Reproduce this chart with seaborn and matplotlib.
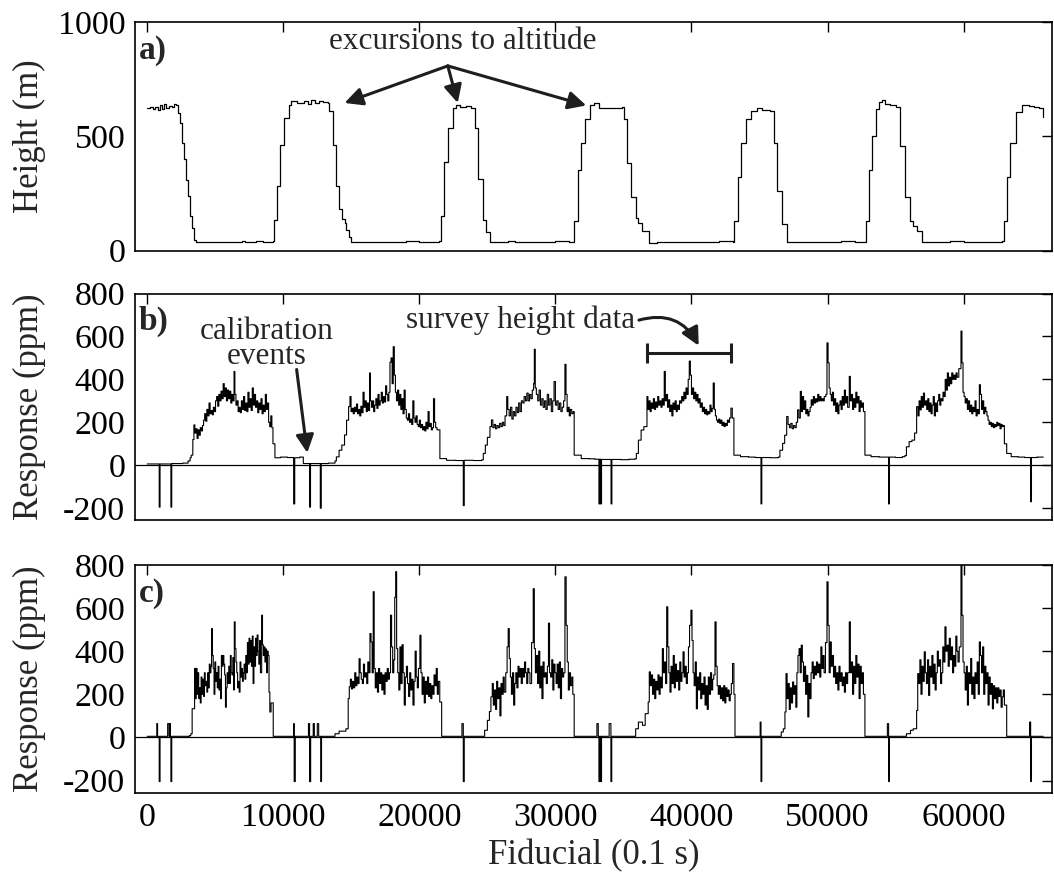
import numpy as np
import pandas as pd
import matplotlib
matplotlib.use("Agg")
import matplotlib.pyplot as plt
import seaborn as sns

# ---------------- data (fiducial, value) ----------------
# Panel a: height (m)
height_fid = [0, 200, 400, 600, 800, 950, 1100, 1250, 1400, 1600, 1800, 2000, 2090, 2250, 2400, 2550,
              2700, 2850, 3000, 3150, 3300, 3450, 3580, 4000, 4500, 5000, 5500, 6000, 6500, 7000, 7200,
              7500, 8000, 8500, 9000, 9250,
              9300, 9530, 9780, 10080, 10400, 10570, 11000, 11500, 11800, 12000, 12300, 12600, 12900, 13260,
              13380, 13630, 13880, 14130, 14350, 14500, 14600, 14800, 15000, 16000, 17000, 18000, 19000,
              20000, 21000, 21450,
              21580, 21830, 22070, 22450, 22690, 23000, 23400, 23810,
              24060, 24310, 24680, 24900, 25180, 26000, 26500, 27000, 28000, 29000, 30000, 31000, 31280,
              31400, 31650, 31900, 32150, 32520, 32800, 33200, 34000, 34600, 34890,
              35030, 35280, 35530, 35900, 36100, 36400, 36900, 37500, 38500, 39500, 40500, 41500, 42000, 43040,
              43160, 43410, 43660, 44040, 44410, 44800, 45200, 45790,
              46040, 46280, 46670, 47050, 48000, 49000, 50000, 51000, 52000, 52680,
              52800, 53050, 53300, 53550, 53800, 54000, 54200, 54600, 55060,
              55310, 55680, 56060, 56300, 56560, 56930, 58000, 59000, 60000, 61000, 62000, 62810,
              62940, 63190, 63440, 63820, 64320, 64800, 65200, 65570, 65870]
height_m = [625, 630, 620, 628, 615, 635, 620, 640, 625, 632, 630, 640, 635, 600, 560, 470,
            400, 310, 240, 150, 100, 45, 38, 36, 40, 38, 37, 40, 38, 42, 36,
            38, 42, 38, 40, 42,
            136, 284, 461, 579, 638, 653, 645, 655, 642, 660, 645, 655, 650, 648,
            609, 461, 284, 181, 140, 121, 90, 60, 40, 38, 40, 38, 42,
            38, 40, 42,
            151, 388, 536, 624, 638, 630, 632, 625,
            535, 313, 136, 80, 40, 38, 42, 38, 40, 36, 42, 38, 40,
            130, 353, 471, 576, 636, 645, 622, 622, 624, 630,
            576, 383, 234, 144, 120, 85, 35, 38, 36, 38, 40, 36, 42, 40,
            130, 323, 471, 576, 613, 625, 615, 610,
            471, 263, 115, 40, 38, 40, 38, 42, 38, 40,
            130, 353, 501, 620, 650, 660, 640, 635, 630,
            458, 234, 130, 110, 85, 40, 38, 42, 38, 40, 38, 42,
            130, 323, 471, 605, 636, 632, 630, 625, 586]

# Panel b: response (ppm), one small list of (fiducial, ppm) per stretch
b_base0 = [(0, 6), (880, -195), (940, 6), (1740, -195), (1800, 8), (2600, 10), (3000, 20), (3150, 35), (3230, 47)]
b_hump1 = [(3350, 120), (3430, 188), (3500, 150), (3580, 170), (3660, 125), (3740, 165), (3820, 140), (3900, 175),
           (3980, 160), (4060, 185), (4140, 210), (4220, 240), (4300, 205), (4380, 260), (4460, 230), (4540, 290),
           (4620, 240), (4700, 255), (4780, 235), (4860, 270), (4940, 250), (5020, 300), (5100, 320), (5180, 275),
           (5260, 330), (5340, 300), (5420, 345), (5500, 310), (5580, 380), (5660, 320), (5740, 360), (5820, 300),
           (5900, 350), (5980, 310), (6060, 345), (6140, 290), (6220, 330), (6300, 300), (6380, 437), (6440, 330),
           (6520, 280), (6600, 300), (6680, 250), (6760, 270), (6840, 245), (6920, 300), (7000, 260), (7080, 320),
           (7160, 255), (7240, 290), (7320, 250), (7400, 340), (7480, 270), (7560, 310), (7640, 255), (7720, 360),
           (7800, 280), (7880, 330), (7960, 270), (8040, 300), (8120, 245), (8200, 290), (8280, 260), (8360, 310),
           (8440, 240), (8520, 280), (8600, 250), (8680, 330), (8760, 260), (8840, 290), (8920, 200), (9000, 180),
           (9080, 230), (9160, 175), (9240, 100)]
b_base1 = [(9385, 35), (9800, 38), (10300, 36), (10760, -180), (10840, 35), (11200, 38), (11470, 8),
           (11930, -195), (12000, 8), (12720, -200), (12790, 8), (13300, 10), (13800, 20)]
b_hump2 = [(13900, 39), (14100, 70), (14300, 94), (14500, 141), (14650, 210), (14800, 273), (14900, 320),
           (14980, 250), (15060, 265), (15140, 240), (15220, 270), (15300, 250), (15380, 285), (15460, 240),
           (15540, 260), (15620, 230), (15700, 275), (15780, 245), (15860, 340), (15940, 270), (16020, 300),
           (16100, 250), (16180, 290), (16260, 255), (16340, 430), (16400, 300), (16480, 270), (16560, 300),
           (16640, 250), (16720, 280), (16800, 310), (16880, 265), (16960, 330), (17040, 280), (17120, 300),
           (17200, 340), (17280, 290), (17360, 320), (17440, 295), (17520, 370), (17600, 330), (17680, 300),
           (17760, 340), (17840, 480), (17920, 500), (18000, 380), (18080, 552), (18160, 420), (18240, 340),
           (18320, 300), (18400, 350), (18480, 280), (18560, 330), (18640, 260), (18720, 310), (18800, 240),
           (18880, 350), (18960, 260), (19040, 220), (19120, 210), (19200, 240), (19280, 200), (19360, 215),
           (19440, 190), (19520, 300), (19600, 220), (19680, 200), (19760, 230), (19840, 190), (19920, 180),
           (20000, 210), (20080, 175), (20160, 190), (20240, 165), (20320, 180), (20400, 160), (20480, 200),
           (20560, 170), (20640, 250), (20720, 180), (20800, 195), (20880, 165), (20960, 175), (21040, 310),
           (21120, 200), (21200, 175), (21300, 165)]
b_base2 = [(21510, 31), (22000, 23), (22700, 22), (23230, -188), (23300, 23), (24000, 22), (24580, 25)]
b_hump3 = [(24700, 55), (24850, 94), (25000, 130), (25190, 180), (25300, 211), (25400, 175), (25500, 190),
           (25600, 170), (25700, 185), (25800, 175), (25900, 195), (26000, 180), (26100, 200), (26200, 185),
           (26300, 230), (26420, 320), (26500, 260), (26600, 230), (26700, 270), (26800, 215), (26900, 250),
           (27000, 230), (27100, 270), (27200, 245), (27300, 290), (27400, 250), (27500, 300), (27600, 290),
           (27700, 320), (27800, 300), (27900, 336), (28000, 300), (28100, 330), (28200, 310), (28300, 350),
           (28400, 380), (28450, 540), (28520, 360), (28600, 330), (28700, 300), (28800, 350), (28900, 280),
           (29000, 310), (29100, 270), (29200, 300), (29300, 260), (29400, 330), (29500, 280), (29600, 310),
           (29700, 250), (29800, 300), (29900, 390), (30000, 280), (30100, 300), (30200, 260), (30300, 290),
           (30400, 250), (30500, 270), (30600, 300), (30700, 470), (30780, 330), (30860, 250), (30940, 270),
           (31020, 230), (31100, 260), (31200, 240), (31300, 250)]
b_base3 = [(31380, 47), (31900, 31), (32500, 30), (32900, 28), (33200, -180), (33260, 28), (33330, -180),
           (33390, 27), (34090, -180), (34150, 27), (34800, 26), (35400, 28), (35850, 30)]
b_hump4 = [(35950, 55), (36100, 117), (36300, 164), (36500, 180), (36730, 320), (36800, 260), (36880, 300),
           (36960, 250), (37040, 290), (37120, 265), (37200, 310), (37280, 260), (37360, 295), (37440, 270),
           (37520, 320), (37600, 280), (37680, 300), (37760, 270), (37840, 310), (37920, 280), (38000, 437),
           (38080, 300), (38160, 330), (38240, 270), (38320, 305), (38400, 250), (38480, 280), (38560, 230),
           (38640, 290), (38720, 260), (38800, 300), (38880, 250), (38960, 280), (39040, 260), (39120, 300),
           (39200, 290), (39280, 320), (39360, 300), (39440, 340), (39520, 310), (39600, 360), (39680, 330),
           (39760, 400), (39840, 485), (39920, 420), (40000, 330), (40080, 360), (40160, 310), (40240, 340),
           (40320, 300), (40400, 330), (40480, 290), (40560, 310), (40640, 270), (40720, 290), (40800, 250),
           (40880, 270), (40960, 240), (41040, 260), (41120, 235), (41200, 250), (41280, 240), (41360, 280),
           (41440, 250), (41520, 265), (41600, 383), (41680, 260), (41760, 230), (41840, 210), (41920, 200),
           (42000, 215), (42080, 195), (42160, 210), (42240, 185), (42320, 200), (42400, 180), (42480, 195),
           (42560, 185), (42640, 210), (42720, 200), (42800, 220), (42900, 266), (43000, 220)]
b_base4 = [(43120, 47), (43600, 40), (44200, 38), (44700, 36), (45110, -180), (45170, 36), (45800, 35), (46380, 38)]
b_hump5 = [(46500, 70), (46700, 102), (46850, 140), (47000, 227), (47100, 190), (47200, 175), (47300, 195),
           (47400, 170), (47500, 185), (47600, 175), (47700, 200), (47800, 258), (47900, 220), (48000, 344),
           (48080, 250), (48160, 320), (48240, 260), (48320, 300), (48400, 240), (48480, 260), (48560, 230),
           (48640, 250), (48720, 270), (48800, 305), (48880, 280), (48960, 320), (49040, 290), (49120, 310),
           (49200, 295), (49280, 330), (49360, 300), (49440, 320), (49520, 300), (49600, 310), (49680, 300),
           (49760, 320), (49880, 330), (49960, 570), (50040, 477), (50120, 360), (50200, 330), (50280, 300),
           (50360, 340), (50440, 280), (50520, 310), (50600, 250), (50680, 290), (50760, 240), (50840, 280),
           (50920, 300), (51000, 260), (51080, 320), (51160, 280), (51240, 350), (51320, 290), (51400, 320),
           (51480, 270), (51600, 414), (51680, 300), (51760, 330), (51840, 260), (51920, 310), (52000, 270),
           (52080, 340), (52160, 290), (52240, 320), (52320, 250), (52400, 300), (52480, 270), (52560, 290),
           (52640, 250)]
b_base5 = [(52750, 47), (53200, 40), (53800, 38), (54490, -180), (54550, 38), (55000, 36), (55500, 40), (55690, 45)]
b_hump6 = [(55800, 86), (56000, 110), (56200, 117), (56400, 150), (56550, 273), (56650, 230), (56730, 300),
           (56810, 258), (56890, 320), (56970, 270), (57050, 336), (57130, 280), (57210, 300), (57290, 260),
           (57370, 310), (57450, 250), (57530, 290), (57610, 240), (57690, 280), (57770, 320), (57850, 230),
           (57930, 290), (58010, 250), (58090, 300), (58170, 330), (58250, 280), (58330, 310), (58410, 300),
           (58490, 340), (58570, 320), (58650, 400), (58730, 350), (58810, 430), (58890, 370), (58970, 410),
           (59050, 380), (59130, 430), (59210, 400), (59290, 420), (59370, 400), (59450, 430), (59530, 410),
           (59650, 450), (59810, 625), (59880, 477), (59960, 340), (60040, 320), (60120, 290), (60200, 310),
           (60280, 260), (60360, 300), (60440, 250), (60520, 280), (60600, 240), (60680, 270), (60760, 250),
           (60840, 300), (60920, 230), (61000, 260), (61080, 240), (61160, 375), (61240, 330), (61320, 260),
           (61400, 300), (61480, 240), (61560, 270), (61640, 250), (61720, 230), (61800, 210), (61880, 190),
           (61960, 200), (62040, 180), (62120, 195), (62200, 175), (62280, 190), (62360, 180), (62440, 200),
           (62520, 185), (62600, 195), (62680, 170), (62760, 190), (62840, 180), (62920, 185), (63000, 100)]
b_base6 = [(63170, 55), (63500, 40), (64000, 38), (64500, 36), (64930, -170), (64990, 36), (65400, 38), (65860, 38)]

# Panel c: response (ppm)
c_base0 = [(0, 5), (650, 5), (700, 64), (760, 5), (880, -205), (940, 5), (1450, 5), (1500, 64), (1600, 5),
           (1650, 64), (1700, 5), (1740, -205), (1800, 5), (2500, 5), (3100, 8), (3200, 17)]
c_hump1 = [(3300, 133), (3400, 133), (3480, 320), (3540, 180), (3600, 320), (3660, 200), (3720, 300), (3780, 180),
           (3840, 230), (3900, 160), (3960, 280), (4020, 200), (4080, 270), (4140, 190), (4200, 300), (4260, 240),
           (4320, 260), (4380, 210), (4440, 300), (4500, 230), (4560, 340), (4620, 300), (4680, 330), (4730, 505),
           (4790, 380), (4850, 320), (4910, 200), (4970, 350), (5030, 260), (5090, 300), (5150, 230), (5210, 330),
           (5270, 220), (5330, 270), (5390, 180), (5450, 380), (5510, 330), (5570, 380), (5630, 340), (5690, 290),
           (5750, 140), (5810, 230), (5870, 300), (5930, 250), (5990, 330), (6050, 250), (6110, 380), (6170, 300),
           (6230, 290), (6290, 370), (6350, 220), (6400, 536), (6460, 412), (6520, 350), (6580, 300), (6640, 230),
           (6700, 260), (6760, 210), (6820, 350), (6880, 280), (6940, 320), (7000, 260), (7060, 300), (7120, 340),
           (7180, 270), (7240, 380), (7300, 300), (7360, 440), (7420, 340), (7480, 460), (7540, 350), (7600, 450),
           (7660, 330), (7720, 470), (7780, 250), (7840, 420), (7900, 330), (7960, 460), (8020, 380), (8080, 475),
           (8140, 400), (8200, 340), (8260, 450), (8320, 300), (8410, 567), (8470, 430), (8530, 380), (8590, 420),
           (8650, 350), (8710, 410), (8770, 300), (8830, 400), (8890, 380), (8950, 210), (9010, 118), (9100, 160)]
c_base1 = [(9260, 5), (9800, 5), (10400, 5), (10760, 64), (10800, -205), (10880, 5), (11400, 5), (11850, 64),
           (11930, -205), (12010, 5), (12200, 64), (12280, 5), (12500, 64), (12600, 5), (12750, -205), (12810, 5),
           (13300, 5), (13800, 17), (14100, 29), (14400, 29), (14600, 40)]
c_hump2 = [(14770, 180), (14850, 235), (14930, 270), (15010, 225), (15090, 260), (15170, 230), (15250, 300),
           (15330, 240), (15410, 280), (15490, 250), (15570, 365), (15650, 300), (15730, 270), (15810, 250),
           (15890, 340), (15970, 280), (16050, 300), (16130, 250), (16210, 350), (16290, 300), (16370, 482),
           (16450, 443), (16530, 300), (16610, 676), (16680, 320), (16760, 230), (16840, 300), (16920, 210),
           (17000, 320), (17080, 250), (17160, 300), (17240, 220), (17320, 290), (17400, 200), (17480, 300),
           (17560, 260), (17640, 320), (17720, 270), (17800, 300), (17880, 567), (17960, 420), (18040, 300),
           (18120, 360), (18190, 650), (18260, 769), (18330, 412), (18410, 300), (18490, 220), (18570, 420),
           (18650, 250), (18730, 430), (18810, 300), (18890, 150), (18970, 280), (19050, 330), (19130, 250),
           (19210, 190), (19290, 300), (19370, 220), (19450, 270), (19530, 150), (19610, 260), (19690, 400),
           (19770, 280), (19850, 230), (19930, 320), (20040, 474), (20120, 300), (20200, 200), (20280, 280),
           (20360, 160), (20440, 260), (20520, 200), (20600, 280), (20680, 190), (20760, 250), (20840, 180),
           (20920, 240), (21000, 200), (21080, 290), (21160, 240), (21240, 320), (21320, 200), (21400, 260),
           (21500, 164)]
c_base2 = [(21640, 5), (22200, 5), (22900, 5), (23130, 64), (23230, -205), (23300, 5), (24000, 5), (24700, 5)]
c_hump3 = [(24800, 33), (25000, 79), (25150, 120), (25260, 188), (25360, 250), (25440, 150), (25520, 220),
           (25600, 130), (25680, 260), (25760, 180), (25840, 230), (25920, 100), (26000, 250), (26080, 200),
           (26160, 280), (26240, 210), (26350, 300), (26450, 420), (26530, 505), (26610, 366), (26690, 280),
           (26770, 200), (26850, 300), (26930, 150), (27010, 250), (27090, 300), (27170, 230), (27250, 330),
           (27330, 280), (27410, 320), (27490, 250), (27570, 320), (27650, 280), (27730, 350), (27810, 300),
           (27890, 250), (27970, 320), (28050, 300), (28130, 250), (28250, 440), (28370, 690), (28450, 412),
           (28530, 300), (28610, 380), (28690, 250), (28770, 400), (28850, 230), (28930, 330), (29010, 180),
           (29090, 350), (29170, 280), (29250, 300), (29330, 250), (29410, 330), (29490, 530), (29570, 300),
           (29650, 280), (29730, 360), (29810, 220), (29890, 340), (29970, 300), (30050, 250), (30130, 340),
           (30210, 230), (30290, 350), (30370, 180), (30450, 320), (30530, 280), (30610, 300), (30700, 745),
           (30790, 520), (30870, 350), (30950, 220), (31030, 300), (31110, 240), (31200, 280), (31280, 200)]
c_base3 = [(31380, 5), (31900, 5), (32600, 5), (33050, 64), (33150, 5), (33200, -205), (33260, 5), (33330, -205),
           (33390, 5), (33950, 64), (34080, -205), (34140, 5), (34800, 5), (35500, 5), (35900, 40), (36100, 71),
           (36400, 56)]
c_hump4 = [(36600, 110), (36820, 164), (36900, 304), (36980, 240), (37060, 290), (37140, 200), (37220, 270),
           (37300, 180), (37380, 260), (37460, 220), (37540, 290), (37620, 200), (37700, 280), (37780, 230),
           (37860, 412), (37940, 300), (38020, 350), (38100, 250), (38180, 606), (38260, 420), (38340, 300),
           (38420, 210), (38500, 330), (38580, 250), (38660, 380), (38740, 230), (38820, 340), (38900, 260),
           (38980, 310), (39060, 220), (39140, 350), (39220, 260), (39300, 300), (39380, 397), (39460, 280),
           (39540, 330), (39620, 250), (39700, 300), (39780, 420), (39860, 520), (39960, 590), (40040, 450),
           (40120, 300), (40200, 240), (40280, 350), (40360, 133), (40440, 280), (40520, 220), (40600, 300),
           (40680, 180), (40760, 250), (40840, 200), (40920, 280), (41000, 150), (41080, 240), (41160, 130),
           (41240, 280), (41320, 200), (41400, 300), (41480, 220), (41560, 270), (41640, 290), (41730, 536),
           (41810, 330), (41890, 240), (41970, 200), (42050, 240), (42130, 180), (42210, 230), (42290, 170),
           (42370, 240), (42450, 160), (42530, 230), (42610, 190), (42690, 220), (42770, 170), (42850, 200),
           (42930, 250), (43020, 343), (43120, 200)]
c_base4 = [(43200, 5), (43700, 5), (44300, 5), (45050, 71), (45110, -205), (45170, 5), (45800, 5), (46300, 5),
           (46600, 25), (46750, 40)]
c_hump5 = [(46870, 118), (46950, 296), (47030, 180), (47110, 250), (47190, 130), (47270, 230), (47350, 160),
           (47430, 257), (47510, 200), (47590, 240), (47670, 140), (47750, 300), (47830, 380), (47910, 412),
           (47990, 300), (48070, 428), (48150, 350), (48230, 260), (48310, 330), (48390, 200), (48470, 288),
           (48550, 95), (48630, 250), (48710, 180), (48790, 300), (48870, 350), (48950, 273), (49030, 330),
           (49110, 290), (49190, 350), (49270, 300), (49350, 340), (49430, 280), (49510, 420), (49590, 320),
           (49670, 380), (49750, 300), (49850, 440), (49960, 722), (50040, 520), (50120, 300), (50200, 443),
           (50280, 330), (50360, 380), (50440, 280), (50520, 330), (50600, 250), (50680, 300), (50760, 220),
           (50840, 330), (50920, 260), (51000, 300), (51080, 240), (51160, 280), (51240, 210), (51320, 300),
           (51400, 250), (51480, 300), (51600, 536), (51680, 300), (51760, 350), (51840, 200), (51920, 330),
           (52000, 250), (52080, 380), (52160, 280), (52240, 340), (52320, 180), (52400, 330), (52480, 250),
           (52560, 300), (52640, 200)]
c_base5 = [(52750, 5), (53300, 5), (53900, 5), (54400, 64), (54490, -205), (54550, 5), (55200, 5), (55800, 17),
           (56100, 33), (56300, 40)]
c_hump6 = [(56550, 125), (56630, 296), (56710, 250), (56790, 360), (56870, 200), (56950, 330), (57030, 260),
           (57110, 397), (57190, 300), (57270, 250), (57350, 360), (57430, 195), (57510, 330), (57590, 280),
           (57670, 380), (57750, 250), (57830, 340), (57910, 220), (57990, 300), (58070, 400), (58150, 330),
           (58230, 360), (58310, 250), (58390, 300), (58470, 420), (58550, 350), (58630, 513), (58710, 400),
           (58790, 428), (58870, 330), (58950, 460), (59030, 360), (59110, 420), (59190, 300), (59270, 380),
           (59350, 330), (59430, 470), (59510, 400), (59590, 350), (59680, 420), (59810, 800), (59880, 567),
           (59960, 350), (60040, 300), (60120, 220), (60200, 330), (60280, 150), (60360, 300), (60440, 250),
           (60520, 366), (60600, 200), (60680, 280), (60760, 180), (60840, 300), (60920, 250), (61000, 350),
           (61080, 200), (61160, 443), (61240, 380), (61320, 300), (61400, 420), (61480, 200), (61560, 330),
           (61640, 250), (61720, 300), (61800, 150), (61880, 280), (61960, 200), (62040, 250), (62120, 133),
           (62200, 240), (62280, 180), (62360, 230), (62440, 160), (62520, 230), (62600, 190), (62680, 220),
           (62760, 140), (62840, 188), (62920, 220), (63000, 150)]
c_base6 = [(63170, 5), (63700, 5), (64300, 5), (64850, 71), (64930, -205), (64990, 5), (65500, 5), (65860, 5)]

x_ticks = [0, 10000, 20000, 30000, 40000, 50000, 60000]
height_ticks = [0, 500, 1000]
resp_ticks = [-200, 0, 200, 400, 600, 800]

# annotation anchors (data coordinates)
excursion_text = (23160, 915)
excursion_origin = (22090, 808)
excursion_targets = [(14500, 646), (22820, 646), (32270, 635)]
calib_text = (8800, 565)
calib_arrow = [(10980, 446), (11760, 58)]
survey_text = (27470, 675)
survey_arrow = [(36140, 676), (40530, 557)]
survey_span = (36730, 42930)
survey_level = 524

# ---------------- styling ----------------
sns.set_theme(style="white")
plt.rcParams["font.family"] = ["Liberation Serif", "DejaVu Serif"]
plt.rcParams["axes.unicode_minus"] = False
plt.rcParams["axes.edgecolor"] = "black"
plt.rcParams["axes.linewidth"] = 1.2

fig = plt.figure(figsize=(10.54, 8.75), dpi=100)
left, width = 135 / 1054, (1052 - 135) / 1054
ax_a = fig.add_axes([left, 1 - 250.7 / 875, width, 228.7 / 875])
ax_b = fig.add_axes([left, 1 - 520 / 875, width, 226.5 / 875])
ax_c = fig.add_axes([left, 1 - 793 / 875, width, 228 / 875])

TICK_FS = 24.5
LAB_FS = 25
ANN_FS = 22.5
arrow_kw = dict(arrowstyle="-|>", color="#1e1e1e", lw=2.2, mutation_scale=27, shrinkA=0, shrinkB=0)


def to_frame(*segs):
    pts = [p for s in segs for p in s]
    return pd.DataFrame({"fid": [p[0] for p in pts], "val": [p[1] for p in pts]})


df_a = pd.DataFrame({"fid": height_fid, "val": height_m})
df_b = to_frame(b_base0, b_hump1, b_base1, b_hump2, b_base2, b_hump3, b_base3, b_hump4, b_base4,
                b_hump5, b_base5, b_hump6, b_base6)
df_c = to_frame(c_base0, c_hump1, c_base1, c_hump2, c_base2, c_hump3, c_base3, c_hump4, c_base4,
                c_hump5, c_base5, c_hump6, c_base6)

sns.lineplot(data=df_a, x="fid", y="val", ax=ax_a, color="black", lw=0.9,
             estimator=None, sort=False, drawstyle="steps-post")
sns.lineplot(data=df_b, x="fid", y="val", ax=ax_b, color="black", lw=0.8,
             estimator=None, sort=False, drawstyle="steps-post")
sns.lineplot(data=df_c, x="fid", y="val", ax=ax_c, color="black", lw=0.8,
             estimator=None, sort=False, drawstyle="steps-post")

for ax in (ax_b, ax_c):
    ax.axhline(0, color="black", lw=0.9, zorder=1)

for ax, lab in ((ax_a, "a)"), (ax_b, "b)"), (ax_c, "c)")):
    ax.set_xlim(-900, 66500)
    ax.set_xticks(x_ticks)
    ax.tick_params(axis="both", which="both", direction="in", length=7, width=1.0,
                   top=True, right=True, labelsize=TICK_FS, colors="black", pad=7)
    for s in ax.spines.values():
        s.set_visible(True)
        s.set_color("black")
        s.set_linewidth(1.2)
    ax.set_xlabel("")
    ax.text(0.004, 0.875, lab, transform=ax.transAxes, fontsize=24, fontweight="bold",
            ha="left", va="center")

ax_a.set_ylim(0, 1000)
ax_a.set_yticks(height_ticks)
ax_a.set_ylabel("Height (m)", fontsize=LAB_FS)
ax_a.tick_params(labelbottom=False)

ax_b.set_ylim(-255, 800)
ax_b.set_yticks(resp_ticks)
ax_b.set_ylabel("Response (ppm)", fontsize=LAB_FS)
ax_b.tick_params(labelbottom=False)

ax_c.set_ylim(-258, 800)
ax_c.set_yticks(resp_ticks)
ax_c.set_ylabel("Response (ppm)", fontsize=LAB_FS)
ax_c.set_xlabel("Fiducial (0.1 s)", fontsize=LAB_FS, labelpad=4)

for ax in (ax_a, ax_b, ax_c):
    ax.yaxis.set_label_coords(-0.097, 0.5)

# annotations, panel a
ax_a.text(*excursion_text, "excursions to altitude", fontsize=ANN_FS, ha="center", va="center")
for tgt in excursion_targets:
    ax_a.annotate("", xy=tgt, xytext=excursion_origin, arrowprops=arrow_kw)

# annotations, panel b
ax_b.text(*calib_text, "calibration\nevents", fontsize=ANN_FS, ha="center", va="center",
          multialignment="center", linespacing=0.85)
ax_b.annotate("", xy=calib_arrow[1], xytext=calib_arrow[0], arrowprops=arrow_kw)
ax_b.text(*survey_text, "survey height data", fontsize=ANN_FS, ha="center", va="center")
ax_b.annotate("", xy=survey_arrow[1], xytext=survey_arrow[0],
              arrowprops=dict(arrow_kw, connectionstyle="arc3,rad=-0.4"))
ax_b.errorbar(x=[(survey_span[0] + survey_span[1]) / 2], y=[survey_level],
              xerr=[(survey_span[1] - survey_span[0]) / 2], color="#1e1e1e", lw=2.2,
              capsize=7, capthick=2.2, fmt="none")

fig.savefig("out.png", dpi=100)
